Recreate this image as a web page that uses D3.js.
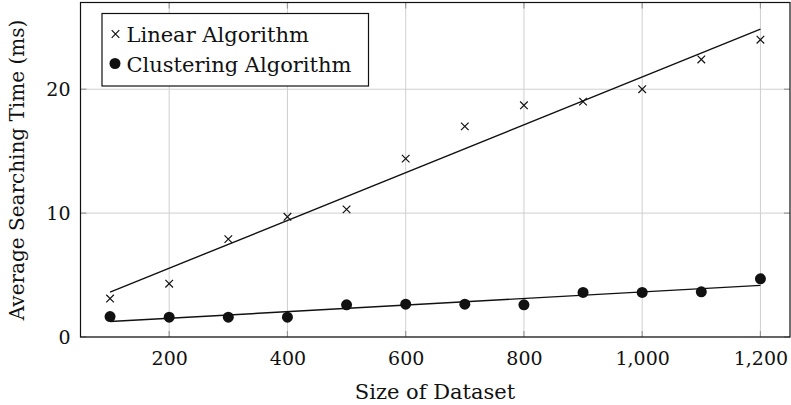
<!DOCTYPE html>
<html>
<head>
<meta charset="utf-8">
<script src="https://cdn.jsdelivr.net/npm/d3@7"></script>
<style>
  body { margin: 0; background: #fff; }
  text { font-family: "DejaVu Serif", serif; fill: #111; }
</style>
</head>
<body>
<svg id="chart" width="791" height="405"></svg>
<script>
// dataset sizes
var sizes = [100, 200, 300, 400, 500, 600, 700, 800, 900, 1000, 1100, 1200];
// average searching time (ms)
var linearTimes = [3.1, 4.3, 7.9, 9.7, 10.3, 14.4, 17.0, 18.7, 19.0, 20.0, 22.4, 24.0];
var clusterTimes = [1.65, 1.6, 1.6, 1.6, 2.6, 2.65, 2.65, 2.6, 3.6, 3.6, 3.65, 4.7];
var xTicks = [200, 400, 600, 800, 1000, 1200];
var yTicks = [0, 10, 20];
var seriesNames = ["Linear Algorithm", "Clustering Algorithm"];

(function () {
  var svg = d3.select("#chart");
  var pl = 80.5, pr = 790, pt = 2.5, pb = 337;

  var x = d3.scaleLinear().domain([50, 1250]).range([pl, pr]);
  var y = d3.scaleLinear().domain([0, 27]).range([pb, pt]);

  // least squares trend line
  function fit(xs, ys) {
    var mx = d3.mean(xs), my = d3.mean(ys);
    var num = d3.sum(xs, function (v, i) { return (v - mx) * (ys[i] - my); });
    var den = d3.sum(xs, function (v) { return (v - mx) * (v - mx); });
    var b = num / den;
    return function (v) { return my + b * (v - mx); };
  }

  // grid
  var grid = svg.append("g").attr("stroke", "#cfcfcf").attr("stroke-width", 1);
  xTicks.forEach(function (t) {
    grid.append("line").attr("x1", x(t)).attr("x2", x(t)).attr("y1", pt).attr("y2", pb);
  });
  yTicks.forEach(function (t) {
    grid.append("line").attr("x1", pl).attr("x2", pr).attr("y1", y(t)).attr("y2", y(t));
  });

  // inward tick marks
  var ticks = svg.append("g").attr("stroke", "#999").attr("stroke-width", 1.2);
  xTicks.forEach(function (t) {
    ticks.append("line").attr("x1", x(t)).attr("x2", x(t)).attr("y1", pb).attr("y2", pb - 6);
    ticks.append("line").attr("x1", x(t)).attr("x2", x(t)).attr("y1", pt).attr("y2", pt + 6);
  });
  yTicks.forEach(function (t) {
    ticks.append("line").attr("x1", pl).attr("x2", pl + 6).attr("y1", y(t)).attr("y2", y(t));
    ticks.append("line").attr("x1", pr).attr("x2", pr - 6).attr("y1", y(t)).attr("y2", y(t));
  });

  // tick labels via d3 axes, lines hidden
  var xAxis = svg.append("g")
    .attr("transform", "translate(0," + pb + ")")
    .call(d3.axisBottom(x).tickValues(xTicks).tickSize(0).tickPadding(10)
      .tickFormat(d3.format(",")));
  var yAxis = svg.append("g")
    .attr("transform", "translate(" + pl + ",0)")
    .call(d3.axisLeft(y).tickValues(yTicks).tickSize(0).tickPadding(10));
  [xAxis, yAxis].forEach(function (a) {
    a.select(".domain").remove();
    a.selectAll("text").style("font-family", "DejaVu Serif, serif").style("font-size", "19px").attr("fill", "#111");
  });
  xAxis.selectAll("text").attr("dy", "0.95em");

  // frame
  svg.append("rect")
    .attr("x", pl).attr("y", pt)
    .attr("width", pr - pl).attr("height", pb - pt)
    .attr("fill", "none").attr("stroke", "#111").attr("stroke-width", 1.2);

  // trend lines
  [linearTimes, clusterTimes].forEach(function (vals) {
    var f = fit(sizes, vals);
    var ends = [sizes[0], sizes[sizes.length - 1]];
    svg.append("path")
      .datum(ends)
      .attr("fill", "none").attr("stroke", "#111").attr("stroke-width", 1.4)
      .attr("d", d3.line().x(function (d) { return x(d); }).y(function (d) { return y(f(d)); }));
  });

  function cross(g, cx, cy) {
    var s = 3.8;
    g.append("path")
      .attr("d", "M" + (cx - s) + "," + (cy - s) + "L" + (cx + s) + "," + (cy + s) +
        "M" + (cx - s) + "," + (cy + s) + "L" + (cx + s) + "," + (cy - s))
      .attr("stroke", "#111").attr("stroke-width", 1.2).attr("fill", "none");
  }

  var marks = svg.append("g");
  sizes.forEach(function (s, i) {
    cross(marks, x(s), y(linearTimes[i]));
  });
  marks.selectAll("circle")
    .data(sizes)
    .enter().append("circle")
    .attr("cx", function (d) { return x(d); })
    .attr("cy", function (d, i) { return y(clusterTimes[i]); })
    .attr("r", 5.5)
    .attr("fill", "#111");

  // legend
  var lg = svg.append("g");
  lg.append("rect")
    .attr("x", 102).attr("y", 13.5).attr("width", 266.5).attr("height", 72.5)
    .attr("fill", "#fff").attr("stroke", "#111").attr("stroke-width", 1.2);
  cross(lg, 115.5, 34);
  lg.append("circle").attr("cx", 115).attr("cy", 63.5).attr("r", 5.5).attr("fill", "#111");
  lg.append("text").attr("x", 126.5).attr("y", 41.5).style("font-size", "21px").text(seriesNames[0]);
  lg.append("text").attr("x", 126.5).attr("y", 71.5).style("font-size", "21px").text(seriesNames[1]);

  // axis titles
  svg.append("text")
    .attr("x", 435).attr("y", 399)
    .attr("text-anchor", "middle")
    .style("font-size", "21px")
    .text("Size of Dataset");
  svg.append("text")
    .attr("transform", "translate(24,170) rotate(-90)")
    .attr("text-anchor", "middle")
    .style("font-size", "20px")
    .text("Average Searching Time (ms)");
})();
</script>
</body>
</html>
